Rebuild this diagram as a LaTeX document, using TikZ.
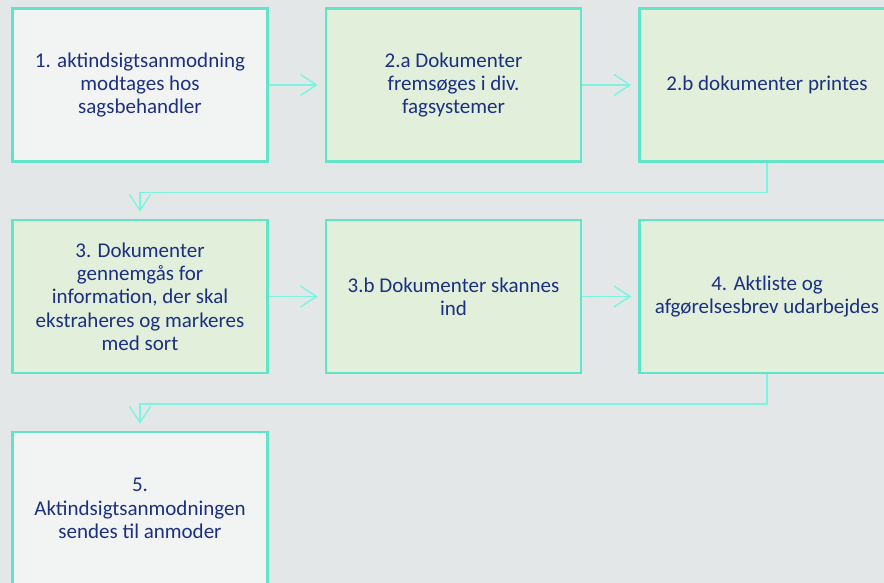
\documentclass[tikz,border=0pt]{standalone}
\usepackage{fontspec}
\setmainfont{Carlito}
\usetikzlibrary{arrows.meta}
\definecolor{bg}{RGB}{227,231,232}
\definecolor{edge}{RGB}{98,228,200}
\definecolor{conn}{RGB}{125,245,222}
\definecolor{fillw}{RGB}{242,244,244}
\definecolor{fillg}{RGB}{226,239,218}
\definecolor{ink}{RGB}{28,48,128}
\tikzset{
  box/.style={draw=edge, line width=2.6pt, minimum width=255pt, minimum height=153pt,
    align=center, text=ink, inner sep=1pt,
    font=\fontsize{21pt}{23.3pt}\selectfont},
  wbox/.style={box, fill=fillw},
  gbox/.style={box, fill=fillg},
  conn/.style={draw=conn, line width=1.4pt, shorten >=7pt,
    -{Straight Barb[length=16pt,width=21pt,line width=1.4pt]}}
}
\begin{document}
\begin{tikzpicture}[x=1pt,y=-1pt]
\useasboundingbox (0,0) rectangle (884,583);
\clip (0,0) rectangle (884,583);
\fill[bg] (0,0) rectangle (884,583);
\node[wbox] (b1)  at (140,85)    {1. aktindsigtsanmodning\\modtages hos\\sagsbehandler};
\node[gbox] (b2a) at (453.5,85)  {2.a Dokumenter\\fremsøges i div.\\fagsystemer};
\node[gbox] (b2b) at (767,85)    {2.b dokumenter printes};
\node[gbox] (b3)  at (140,296.5) {3. Dokumenter\\gennemgås for\\information, der skal\\ekstraheres og markeres\\med sort};
\node[gbox] (b3b) at (453.5,296.5) {3.b Dokumenter skannes\\ind};
\node[gbox] (b4)  at (767,296.5) {4. Aktliste og\\afgørelsesbrev udarbejdes};
\node[wbox] (b5)  at (140,508.5) {5.\\Aktindsigtsanmodningen\\sendes til anmoder};
\draw[conn] (b1.east) -- (b2a.west);
\draw[conn] (b2a.east) -- (b2b.west);
\draw[conn] (b2b.south) -- ++(0,29.5) -| (b3.north);
\draw[conn] (b3.east) -- (b3b.west);
\draw[conn] (b3b.east) -- (b4.west);
\draw[conn] (b4.south) -- ++(0,29.5) -| (b5.north);
\end{tikzpicture}
\end{document}
